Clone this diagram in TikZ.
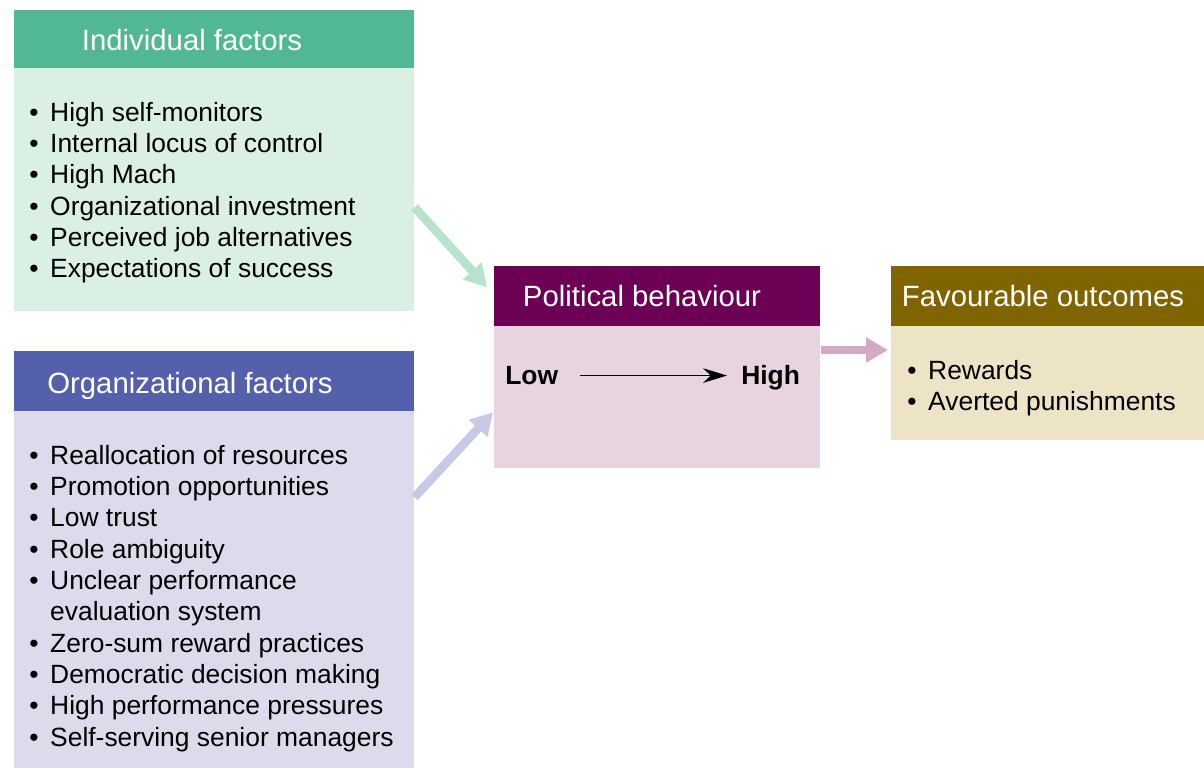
\documentclass[tikz,border=0pt]{standalone}
\usepackage{fontspec}
\setmainfont{Liberation Sans}
\usetikzlibrary{arrows.meta}

\definecolor{indhead}{HTML}{52B893}
\definecolor{indbody}{HTML}{DAF0E4}
\definecolor{indarrow}{HTML}{B5E3CC}
\definecolor{orghead}{HTML}{5560AC}
\definecolor{orgbody}{HTML}{DCDBEC}
\definecolor{orgarrow}{HTML}{C8C9E5}
\definecolor{polhead}{HTML}{6B0055}
\definecolor{polbody}{HTML}{E8D3E0}
\definecolor{polarrow}{HTML}{D4A9C4}
\definecolor{favhead}{HTML}{7F6400}
\definecolor{favbody}{HTML}{EDE4C5}

\tikzset{
  panel/.style={rectangle, anchor=north west, inner sep=0pt, draw=none},
  headtext/.style={anchor=base, text=white, inner sep=0pt, font=\fontsize{22}{26}\selectfont},
  listtext/.style={anchor=base west, inner sep=0pt, font=\fontsize{19.8}{23.5}\selectfont},
  fatarrow/.style={line width=6.5pt, -{Triangle[length=16.5pt,width=18pt]}}
}

\newcommand{\blt}{\textbullet}

\begin{document}
\begin{tikzpicture}[x=0.75pt,y=-0.75pt]
% One unit is one pixel of the reference
\def\px{0.75pt}
\useasboundingbox (0,0) rectangle (1204,768);

% Individual factors
\node[panel, fill=indhead, minimum width=400*\px, minimum height=58*\px] (indhead) at (14,10) {};
\node[panel, fill=indbody, minimum width=400*\px, minimum height=243*\px] (indbody) at (14,68) {};
\node[headtext] (indtitle) at (192,50) {Individual factors};
\node[listtext] (indlist) at (29,121) {\begin{tabular}[t]{@{}l@{\hspace{8.8pt}}l@{}}
\blt & High self-monitors\\
\blt & Internal locus of control\\
\blt & High Mach\\
\blt & Organizational investment\\
\blt & Perceived job alternatives\\
\blt & Expectations of success
\end{tabular}};

% Organizational factors
\node[panel, fill=orghead, minimum width=400*\px, minimum height=60*\px] (orghead) at (14,351) {};
\node[panel, fill=orgbody, minimum width=400*\px, minimum height=357*\px] (orgbody) at (14,411) {};
\node[headtext] (orgtitle) at (190,393.5) {Organizational factors};
\node[listtext] (orglist) at (29,464) {\begin{tabular}[t]{@{}l@{\hspace{8.8pt}}l@{}}
\blt & Reallocation of resources\\
\blt & Promotion opportunities\\
\blt & Low trust\\
\blt & Role ambiguity\\
\blt & Unclear performance\\
     & evaluation system\\
\blt & Zero-sum reward practices\\
\blt & Democratic decision making\\
\blt & High performance pressures\\
\blt & Self-serving senior managers
\end{tabular}};

% Political behaviour
\node[panel, fill=polhead, minimum width=326*\px, minimum height=60*\px] (polhead) at (494,266) {};
\node[panel, fill=polbody, minimum width=326*\px, minimum height=142*\px] (polbody) at (494,326) {};
\node[headtext] (poltitle) at (642,306.5) {Political behaviour};
\node[listtext, font=\fontsize{19.8}{23.5}\selectfont\bfseries] (low) at (505,384.5) {Low};
\node[listtext, font=\fontsize{19.8}{23.5}\selectfont\bfseries] (high) at (741,384.5) {High};
\draw[line width=1pt, -{Stealth[length=18pt,width=11pt]}, shorten <=16.5pt, shorten >=10.5pt]
  (low.east) -- (low.east -| high.west);

% Favourable outcomes
\node[panel, fill=favhead, minimum width=313*\px, minimum height=60*\px] (favhead) at (891,266) {};
\node[panel, fill=favbody, minimum width=313*\px, minimum height=114*\px] (favbody) at (891,326) {};
\node[headtext] (favtitle) at (1043,306.5) {Favourable outcomes};
\node[listtext] (favlist) at (907,379) {\begin{tabular}[t]{@{}l@{\hspace{8.8pt}}l@{}}
\blt & Rewards\\
\blt & Averted punishments
\end{tabular}};

% Arrows between the panels
\draw[fatarrow, draw=indarrow] ([yshift=-13.1pt]indbody.east) -- ([xshift=-5.25pt,yshift=6.75pt]polhead.west);
\draw[fatarrow, draw=orgarrow] ([yshift=69.4pt]orgbody.east) -- ([xshift=-0.75pt,yshift=-11.25pt]polbody.west);
\draw[fatarrow, draw=polarrow] ([yshift=-18pt]polbody.north east) -- ([yshift=-18pt,xshift=-2.25pt]polbody.north east -| favbody.west);
\end{tikzpicture}
\end{document}
